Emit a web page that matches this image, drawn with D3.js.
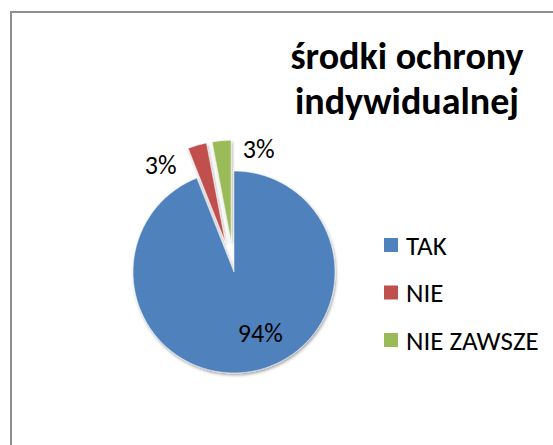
<!DOCTYPE html>
<html>
<head>
<meta charset="utf-8">
<script src="https://cdn.jsdelivr.net/npm/d3@7"></script>
<style>
  html, body { margin: 0; padding: 0; background: #fff; }
  svg { display: block; }
</style>
</head>
<body>
<div id="chart"></div>
<script>
// data
const categories = ['TAK', 'NIE', 'NIE ZAWSZE'];
const values = [94, 3, 3];
const titleLines = ['środki ochrony', 'indywidualnej'];

const colors = ['#4F81BD', '#C0504D', '#9BBB59'];
const explode = [0, 31, 31];
// label nudges (px) relative to the computed anchor
const labelNudge = [[14, -3], [-31, 39], [39, 28]];

const width = 553, height = 445;
const font = "Carlito, Lato, 'Open Sans', sans-serif";

const svg = d3.select('#chart').append('svg')
  .attr('width', width)
  .attr('height', height);

// chart area frame
svg.append('rect')
  .attr('x', 11).attr('y', 12)
  .attr('width', 700).attr('height', 600)
  .attr('fill', 'none')
  .attr('stroke', '#8f8f8f')
  .attr('stroke-width', 2);

const defs = svg.append('defs');
const shadow = defs.append('filter').attr('id', 'shadow')
  .attr('x', '-20%').attr('y', '-20%').attr('width', '140%').attr('height', '140%');
shadow.append('feDropShadow')
  .attr('dx', 1).attr('dy', 2).attr('stdDeviation', 1.5)
  .attr('flood-color', '#000').attr('flood-opacity', 0.35);

// title
svg.append('text')
  .attr('x', 407).attr('y', 69)
  .attr('text-anchor', 'middle')
  .style('font', `bold 38px ${font}`)
  .attr('fill', '#000')
  .selectAll('tspan')
  .data(titleLines)
  .enter().append('tspan')
  .attr('x', 407)
  .attr('dy', (d, i) => i === 0 ? 0 : 45)
  .text(d => d);

// pie
const cx = 234, cy = 272, r = 101;
const pie = d3.pie().sort(null).value(d => d)(values);
const arc = d3.arc().innerRadius(0).outerRadius(r);

const offset = (d, i) => {
  const a = (d.startAngle + d.endAngle) / 2;
  return [Math.sin(a) * explode[i], -Math.cos(a) * explode[i]];
};

const g = svg.append('g').attr('transform', `translate(${cx},${cy})`);

g.selectAll('path')
  .data(pie)
  .enter().append('path')
  .attr('d', arc)
  .attr('fill', (d, i) => colors[i])
  .attr('stroke', '#fff')
  .attr('stroke-width', 0.5)
  .attr('filter', 'url(#shadow)')
  .attr('transform', (d, i) => `translate(${offset(d, i)})`);

// data labels
const labelArcIn = d3.arc().innerRadius(r * 0.65).outerRadius(r * 0.65);
const labelArcOut = d3.arc().innerRadius(r + 20).outerRadius(r + 20);

g.selectAll('text.lbl')
  .data(pie)
  .enter().append('text')
  .attr('class', 'lbl')
  .attr('text-anchor', 'middle')
  .attr('dominant-baseline', 'central')
  .style('font', `26px ${font}`)
  .attr('fill', '#000')
  .attr('transform', (d, i) => {
    const c = (i === 0 ? labelArcIn : labelArcOut).centroid(d);
    const o = offset(d, i);
    return `translate(${c[0] + o[0] + labelNudge[i][0]},${c[1] + o[1] + labelNudge[i][1]})`;
  })
  .text(d => d.value + '%');

// legend
const legend = svg.append('g').attr('transform', 'translate(384,245)');
const item = legend.selectAll('g')
  .data(categories)
  .enter().append('g')
  .attr('transform', (d, i) => `translate(0,${i * 47.5})`);

item.append('rect')
  .attr('x', 0).attr('y', -7)
  .attr('width', 14).attr('height', 14)
  .attr('fill', (d, i) => colors[i]);

item.append('text')
  .attr('x', 22).attr('y', 0)
  .attr('dominant-baseline', 'central')
  .style('font', `27px ${font}`)
  .attr('fill', '#000')
  .text(d => d);
</script>
</body>
</html>
